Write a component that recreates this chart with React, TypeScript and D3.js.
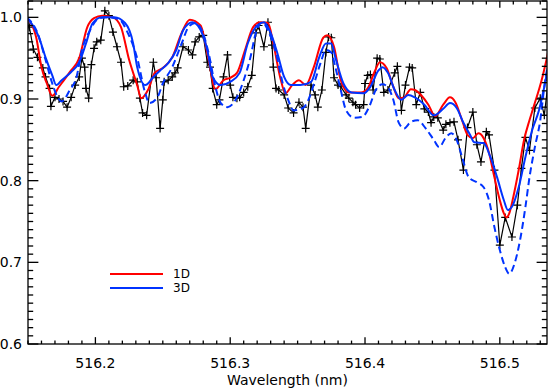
import React from "react";
import * as d3 from "d3";

// observed spectrum (black, + markers)
const OBS_WL = [
  516.150, 516.151, 516.154, 516.157, 516.161, 516.163, 516.166, 516.167, 516.170, 516.173,
  516.176, 516.179, 516.182, 516.185, 516.188, 516.190, 516.192, 516.193, 516.195, 516.197,
  516.199, 516.201, 516.204, 516.207, 516.210, 516.213, 516.216, 516.219, 516.221, 516.224,
  516.228, 516.231, 516.233, 516.235, 516.238, 516.243, 516.245, 516.248, 516.250, 516.251,
  516.254, 516.257, 516.259, 516.261, 516.265, 516.269, 516.272, 516.274, 516.277, 516.280,
  516.283, 516.285, 516.287, 516.290, 516.292, 516.295, 516.298, 516.300, 516.302, 516.305,
  516.307, 516.310, 516.313, 516.316, 516.319, 516.321, 516.325, 516.328, 516.331, 516.332,
  516.334, 516.336, 516.340, 516.343, 516.347, 516.351, 516.354, 516.356, 516.360, 516.363,
  516.365, 516.368, 516.371, 516.373, 516.375, 516.377, 516.380, 516.382, 516.386, 516.388,
  516.391, 516.393, 516.396, 516.399, 516.400, 516.402, 516.404, 516.406, 516.409, 516.411,
  516.414, 516.417, 516.422, 516.424, 516.427, 516.430, 516.433, 516.435, 516.438, 516.441,
  516.444, 516.447, 516.449, 516.451, 516.454, 516.458, 516.460, 516.463, 516.466, 516.469,
  516.473, 516.476, 516.480, 516.483, 516.486, 516.490, 516.492, 516.496, 516.500, 516.504,
  516.509, 516.513, 516.516, 516.519, 516.522, 516.526, 516.530, 516.533, 516.536, 516.538,
];
const OBS_FLUX = [
  0.990, 0.988, 0.961, 0.951, 0.938, 0.927, 0.913, 0.891, 0.902, 0.900,
  0.897, 0.890, 0.902, 0.917, 0.927, 0.950, 0.939, 0.913, 0.901, 0.942,
  0.962, 0.970, 0.972, 1.008, 1.002, 0.982, 0.964, 0.945, 0.915, 0.916,
  0.923, 0.921, 0.901, 0.883, 0.880, 0.945, 0.926, 0.864, 0.899, 0.921,
  0.923, 0.927, 0.932, 0.938, 0.964, 0.960, 0.954, 0.970, 0.976, 0.978,
  0.945, 0.939, 0.913, 0.893, 0.899, 0.927, 0.954, 0.917, 0.902, 0.901,
  0.902, 0.908, 0.915, 0.929, 0.981, 0.990, 0.964, 0.994, 0.966, 0.939,
  0.913, 0.911, 0.905, 0.889, 0.883, 0.896, 0.890, 0.864, 0.917, 0.905,
  0.890, 0.911, 0.957, 0.976, 0.975, 0.926, 0.917, 0.915, 0.905, 0.901,
  0.896, 0.893, 0.889, 0.893, 0.919, 0.929, 0.930, 0.911, 0.950, 0.949,
  0.908, 0.911, 0.932, 0.940, 0.886, 0.917, 0.939, 0.938, 0.893, 0.908,
  0.888, 0.884, 0.871, 0.878, 0.877, 0.862, 0.869, 0.871, 0.872, 0.850,
  0.813, 0.865, 0.884, 0.844, 0.823, 0.860, 0.856, 0.813, 0.721, 0.755,
  0.731, 0.770, 0.815, 0.853, 0.837, 0.889, 0.901, 0.880, 0.923, 0.970,
];

// 1D model (red)
const WL_1D = [
  516.149, 516.156, 516.160, 516.164, 516.168, 516.173, 516.181, 516.188, 516.194, 516.199,
  516.205, 516.213, 516.219, 516.225, 516.231, 516.234, 516.239, 516.244, 516.250, 516.257,
  516.264, 516.270, 516.278, 516.284, 516.289, 516.295, 516.300, 516.305, 516.311, 516.317,
  516.322, 516.328, 516.332, 516.337, 516.341, 516.346, 516.351, 516.356, 516.362, 516.369,
  516.372, 516.377, 516.382, 516.388, 516.397, 516.402, 516.407, 516.411, 516.416, 516.421,
  516.425, 516.429, 516.434, 516.437, 516.442, 516.447, 516.452, 516.458, 516.463, 516.467,
  516.472, 516.476, 516.480, 516.484, 516.488, 516.492, 516.496, 516.500, 516.503, 516.505,
  516.507, 516.510, 516.514, 516.518, 516.522, 516.525, 516.531, 516.535, 516.538,
];
const FLUX_1D = [
  0.999, 0.976, 0.939, 0.919, 0.904, 0.915, 0.933, 0.950, 0.988, 0.999,
  1.002, 1.000, 0.988, 0.948, 0.917, 0.901, 0.911, 0.932, 0.938, 0.951,
  0.981, 0.997, 0.990, 0.948, 0.912, 0.923, 0.926, 0.932, 0.960, 0.988,
  0.994, 0.993, 0.968, 0.927, 0.907, 0.917, 0.923, 0.917, 0.939, 0.975,
  0.978, 0.964, 0.923, 0.908, 0.908, 0.913, 0.933, 0.945, 0.938, 0.915,
  0.901, 0.902, 0.912, 0.911, 0.904, 0.893, 0.879, 0.893, 0.902, 0.896,
  0.874, 0.856, 0.852, 0.858, 0.852, 0.834, 0.804, 0.776, 0.760, 0.755,
  0.760, 0.780, 0.813, 0.850, 0.874, 0.890, 0.923, 0.951, 0.974,
];

// 3D model (blue, solid)
const WL_3D = [
  516.149, 516.158, 516.163, 516.168, 516.171, 516.175, 516.182, 516.188, 516.193, 516.198,
  516.205, 516.214, 516.222, 516.228, 516.231, 516.237, 516.243, 516.248, 516.254, 516.260,
  516.265, 516.272, 516.276, 516.283, 516.287, 516.293, 516.300, 516.307, 516.313, 516.320,
  516.325, 516.330, 516.335, 516.340, 516.345, 516.352, 516.360, 516.366, 516.371, 516.375,
  516.378, 516.384, 516.390, 516.399, 516.404, 516.410, 516.413, 516.417, 516.422, 516.427,
  516.432, 516.437, 516.444, 516.451, 516.458, 516.463, 516.468, 516.473, 516.478, 516.481,
  516.488, 516.493, 516.498, 516.503, 516.506, 516.509, 516.514, 516.519, 516.524, 516.529,
  516.533, 516.538,
];
const FLUX_3D = [
  1.000, 0.976, 0.951, 0.929, 0.917, 0.923, 0.933, 0.945, 0.968, 0.993,
  1.000, 1.000, 0.993, 0.968, 0.939, 0.917, 0.927, 0.935, 0.944, 0.960,
  0.984, 0.994, 0.990, 0.960, 0.927, 0.917, 0.921, 0.932, 0.968, 0.990,
  0.994, 0.981, 0.956, 0.927, 0.917, 0.917, 0.921, 0.951, 0.968, 0.968,
  0.951, 0.919, 0.908, 0.907, 0.915, 0.935, 0.939, 0.932, 0.911, 0.899,
  0.905, 0.902, 0.893, 0.880, 0.888, 0.895, 0.889, 0.871, 0.856, 0.847,
  0.846, 0.829, 0.804, 0.776, 0.764, 0.768, 0.792, 0.829, 0.862, 0.886,
  0.915, 0.962,
];

// 3D model, second version (blue, dashed)
const WL_3D_ALT = [
  516.149, 516.157, 516.163, 516.168, 516.172, 516.175, 516.181, 516.186, 516.190, 516.196,
  516.203, 516.210, 516.218, 516.224, 516.231, 516.237, 516.240, 516.246, 516.250, 516.257,
  516.264, 516.269, 516.274, 516.279, 516.284, 516.289, 516.293, 516.298, 516.304, 516.310,
  516.315, 516.319, 516.324, 516.328, 516.334, 516.339, 516.343, 516.347, 516.354, 516.358,
  516.363, 516.367, 516.371, 516.375, 516.378, 516.382, 516.386, 516.392, 516.398, 516.403,
  516.408, 516.413, 516.416, 516.421, 516.425, 516.429, 516.434, 516.439, 516.445, 516.451,
  516.455, 516.460, 516.464, 516.468, 516.472, 516.477, 516.483, 516.488, 516.492, 516.496,
  516.500, 516.504, 516.507, 516.511, 516.515, 516.519, 516.522, 516.526, 516.530, 516.533,
  516.537,
];
const FLUX_3D_ALT = [
  1.000, 0.981, 0.948, 0.919, 0.902, 0.897, 0.911, 0.927, 0.960, 0.984,
  0.999, 1.000, 0.997, 0.981, 0.950, 0.907, 0.895, 0.902, 0.919, 0.939,
  0.968, 0.988, 0.993, 0.984, 0.956, 0.915, 0.895, 0.890, 0.899, 0.923,
  0.951, 0.981, 0.994, 0.984, 0.956, 0.919, 0.899, 0.886, 0.889, 0.899,
  0.923, 0.944, 0.960, 0.957, 0.939, 0.911, 0.886, 0.877, 0.878, 0.890,
  0.911, 0.918, 0.916, 0.899, 0.871, 0.864, 0.872, 0.874, 0.864, 0.850,
  0.841, 0.853, 0.858, 0.850, 0.829, 0.804, 0.798, 0.792, 0.776, 0.743,
  0.715, 0.694, 0.686, 0.699, 0.727, 0.768, 0.804, 0.841, 0.874, 0.915,
  0.954,
];

const X_DOMAIN = [516.15, 516.535];
const Y_DOMAIN = [0.6, 1.02];
const LEGEND_LABELS = ["1D", "3D"];

const W = 551;
const H = 390;
const L = 28, R = 547, T = 1, B = 344;
const FONT = "DejaVu Sans, sans-serif";
const RED = "#ff0000";
const BLUE = "#0033ff";

const zip = (xs: number[], ys: number[]) => xs.map((v, i) => [v, ys[i]] as [number, number]);

export default function App() {
  const x = d3.scaleLinear().domain(X_DOMAIN).range([L, R]);
  const y = d3.scaleLinear().domain(Y_DOMAIN).range([B, T]);

  const smooth = d3.line<[number, number]>().x(d => x(d[0])).y(d => y(d[1])).curve(d3.curveMonotoneX);
  const straight = d3.line<[number, number]>().x(d => x(d[0])).y(d => y(d[1]));

  const obs = zip(OBS_WL, OBS_FLUX);

  const xMajor = x.ticks(4);
  const xMinor = x.ticks(40);
  const yMajor = y.ticks(5);
  const yMinor = y.ticks(42);

  // IDL style tick lengths: 2% of plot size, minors half
  const xTickLen = 0.02 * (B - T);
  const yTickLen = 0.02 * (R - L);
  const isMajor = (v: number, majors: number[]) => majors.some(m => Math.abs(m - v) < 1e-6);

  return (
    <svg width={W} height={H} style={{ position: "absolute", left: 0, top: 0, background: "#fff" }}
      fontFamily={FONT}>
      <defs>
        <clipPath id="plot">
          <rect x={L} y={T} width={R - L} height={B - T} />
        </clipPath>
      </defs>

      <g clipPath="url(#plot)">
        {/* observations */}
        <path d={straight(obs) || ""} fill="none" stroke="#000" strokeWidth={1.2} />
        {obs.map((d, i) => (
          <path key={i} d={`M${x(d[0]) - 4},${y(d[1])}h8M${x(d[0])},${y(d[1]) - 4}v8`}
            stroke="#000" strokeWidth={1.2} />
        ))}
        <path d={smooth(zip(WL_1D, FLUX_1D)) || ""} fill="none" stroke={RED} strokeWidth={2} />
        <path d={smooth(zip(WL_3D, FLUX_3D)) || ""} fill="none" stroke={BLUE} strokeWidth={2} />
        <path d={smooth(zip(WL_3D_ALT, FLUX_3D_ALT)) || ""} fill="none" stroke={BLUE}
          strokeWidth={2} strokeDasharray="7,4" />
      </g>

      {/* frame */}
      <rect x={L} y={T} width={R - L} height={B - T} fill="none" stroke="#000" strokeWidth={1.3} />

      {/* x ticks, bottom and top */}
      {xMinor.map((v, i) => {
        const len = isMajor(v, xMajor) ? xTickLen : xTickLen / 2;
        return (
          <g key={"xt" + i} stroke="#000" strokeWidth={1.3}>
            <line x1={x(v)} x2={x(v)} y1={B} y2={B - len} />
            <line x1={x(v)} x2={x(v)} y1={T} y2={T + len} />
          </g>
        );
      })}
      {/* y ticks, left and right */}
      {yMinor.map((v, i) => {
        const len = isMajor(v, yMajor) ? yTickLen : yTickLen / 2;
        return (
          <g key={"yt" + i} stroke="#000" strokeWidth={1.3}>
            <line x1={L} x2={L + len} y1={y(v)} y2={y(v)} />
            <line x1={R} x2={R - len} y1={y(v)} y2={y(v)} />
          </g>
        );
      })}

      {xMajor.map(v => (
        <text key={"xl" + v} x={x(v)} y={368} textAnchor="middle" fontSize={14} fill="#000">
          {v.toFixed(1)}
        </text>
      ))}
      {yMajor.map(v => (
        <text key={"yl" + v} x={22} y={y(v) + 5} textAnchor="end" fontSize={14} fill="#000">
          {v.toFixed(1)}
        </text>
      ))}

      <text x={(L + R) / 2} y={385} textAnchor="middle" fontSize={14} fill="#000">
        Wavelength (nm)
      </text>

      {/* legend */}
      {LEGEND_LABELS.map((lab, i) => (
        <g key={lab}>
          <line x1={110} x2={163} y1={274 + i * 14} y2={274 + i * 14}
            stroke={i === 0 ? RED : BLUE} strokeWidth={2} />
          <text x={173} y={278 + i * 14} fontSize={12} fill="#000">{lab}</text>
        </g>
      ))}
    </svg>
  );
}
